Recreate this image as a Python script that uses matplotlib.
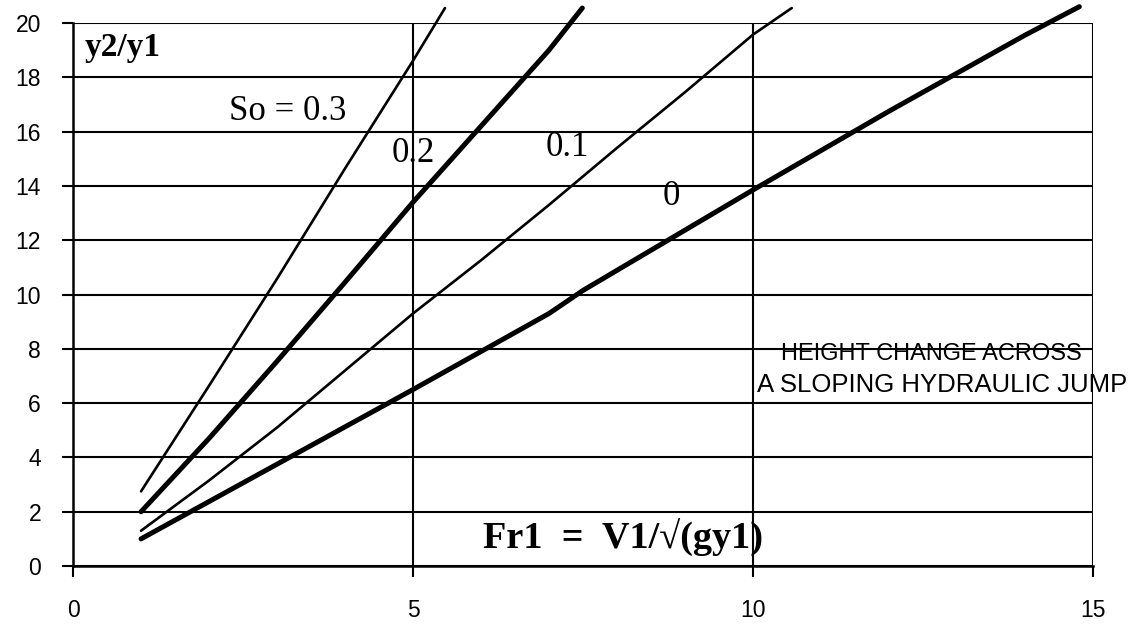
import matplotlib
matplotlib.use("Agg")
import matplotlib.pyplot as plt

# y2/y1 against Fr1, one curve per bed slope So
fr_s0 = [1, 3, 5, 7, 7.5, 10, 12, 14, 14.8]
y_s0 = [1.0, 3.75, 6.5, 9.3, 10.15, 13.85, 16.75, 19.55, 20.6]

fr_s1 = [1, 2, 3, 4, 5, 6, 7, 8, 9, 10, 10.57]
y_s1 = [1.3, 3.15, 5.1, 7.2, 9.3, 11.26, 13.3, 15.4, 17.45, 19.57, 20.55]

fr_s2 = [1, 2, 3, 4, 5, 6, 7, 7.49]
y_s2 = [2.0, 4.7, 7.54, 10.45, 13.4, 16.2, 19.0, 20.55]

fr_s3 = [1, 2, 3, 4, 5, 5.47]
y_s3 = [2.75, 6.64, 10.58, 14.64, 18.61, 20.55]

x_ticks = [0, 5, 10, 15]
y_ticks = [0, 2, 4, 6, 8, 10, 12, 14, 16, 18, 20]

SERIF = "Liberation Serif"
SANS = "Liberation Sans"

fig = plt.figure(figsize=(11.36, 6.26), dpi=100)
ax = fig.add_axes([0.0643, 0.0958, 0.8978, 0.8675])

ax.set_xlim(0, 15)
ax.set_ylim(0, 20)

# grid: horizontal at every tick, vertical at 5/10/15
for y in y_ticks:
    ax.axhline(y, color="black", lw=1.5, zorder=1)
for x in x_ticks[1:]:
    ax.axvline(x, color="black", lw=1.5, zorder=1)

for s in ["top", "right"]:
    ax.spines[s].set_visible(False)
for s in ["left", "bottom"]:
    ax.spines[s].set_linewidth(1.8)

# curves (thin / thick alternate)
ax.plot(fr_s0, y_s0, color="black", lw=3.6, solid_capstyle="round", clip_on=False, zorder=3)
ax.plot(fr_s1, y_s1, color="black", lw=1.9, solid_capstyle="round", clip_on=False, zorder=3)
ax.plot(fr_s2, y_s2, color="black", lw=3.6, solid_capstyle="round", clip_on=False, zorder=3)
ax.plot(fr_s3, y_s3, color="black", lw=1.9, solid_capstyle="round", clip_on=False, zorder=3)

ax.set_xticks(x_ticks)
ax.set_yticks(y_ticks)
ax.set_xticklabels([str(v) for v in x_ticks], fontfamily=SANS, fontsize=16.5)
ax.set_yticklabels([str(v) for v in y_ticks], fontfamily=SANS, fontsize=16.5)
ax.tick_params(axis="x", direction="out", length=8, width=1.5, pad=16)
ax.tick_params(axis="y", direction="out", length=8, width=1.5, pad=15)

# labels inside the plot
ax.text(0.17, 19.1, "y2/y1", fontfamily=SERIF, fontweight="bold", fontsize=24,
        ha="left", va="center", zorder=4)
ax.text(3.16, 16.75, "So = 0.3", fontfamily=SERIF, fontsize=25, ha="center", va="center", zorder=4)
ax.text(5.0, 15.2, "0.2", fontfamily=SERIF, fontsize=25, ha="center", va="center", zorder=4)
ax.text(7.27, 15.4, "0.1", fontfamily=SERIF, fontsize=25, ha="center", va="center", zorder=4)
ax.text(8.8, 13.6, "0", fontfamily=SERIF, fontsize=25, ha="center", va="center", zorder=4)
ax.text(8.09, 1.05, "Fr1  =  V1/\u221a(gy1)", fontfamily=SERIF, fontweight="bold",
        fontsize=27.5, ha="center", va="center", zorder=4)
ax.text(12.62, 7.8, "HEIGHT CHANGE ACROSS", fontfamily=SANS, fontsize=17,
        ha="center", va="center", zorder=4)
ax.text(12.78, 6.67, "A SLOPING HYDRAULIC JUMP", fontfamily=SANS, fontsize=18.5,
        ha="center", va="center", zorder=4)

fig.savefig("out.png", dpi=100, facecolor="white")
